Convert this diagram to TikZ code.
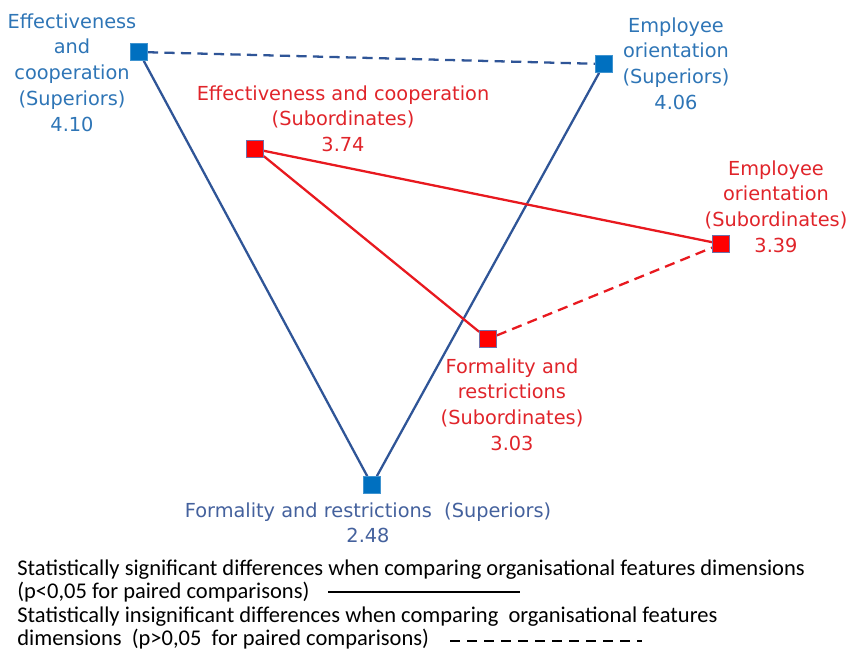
\documentclass[tikz,border=0pt]{standalone}
\usepackage{fontspec}
\setmainfont{DejaVu Sans}
\newfontfamily\legendfont{Carlito}
\usetikzlibrary{backgrounds}

\definecolor{suplabel}{HTML}{2E75B6}
\definecolor{suplabeldark}{HTML}{44619D}
\definecolor{supline}{HTML}{2F5597}
\definecolor{supfill}{HTML}{0070C0}
\definecolor{sublabel}{HTML}{E0242A}
\definecolor{subline}{HTML}{E8191F}
\definecolor{subfill}{HTML}{FF0000}
\definecolor{subedge}{HTML}{7070A8}

\tikzset{
  supsq/.style={draw=supfill!75!white, fill=supfill, minimum size=0.34cm, inner sep=0pt},
  subsq/.style={draw=subedge, fill=subfill, minimum size=0.34cm, inner sep=0pt},
  lbl/.style={align=center, anchor=north, inner sep=0pt, font=\fontsize{11}{14.7}\selectfont},
  legend/.style={anchor=base west, inner sep=0pt, font=\legendfont\fontsize{12.8}{13.3}\selectfont},
  sigline/.style={line width=1.3pt},
  insigline/.style={line width=1.3pt, dash pattern=on 5.8pt off 3.6pt},
}

\begin{document}
\begin{tikzpicture}[x=0.02cm, y=-0.02cm]
  \useasboundingbox (0,0) rectangle (850,653);
  % mean values
  \draw
    (139,52) node[supsq] (ecsup){}
    (604,64) node[supsq] (eosup){}
    (372,485) node[supsq] (frsup){}
    (255,149) node[subsq] (ecsub){}
    (721,244) node[subsq] (eosub){}
    (488,339) node[subsq] (frsub){};
  \begin{scope}[on background layer]
    \draw[supline, insigline] (ecsup) to (eosup);
    \draw[supline, sigline] (ecsup) to (frsup);
    \draw[supline, sigline] (frsup) to (eosup);
    \draw[subline, sigline] (ecsub) to (eosub);
    \draw[subline, sigline] (ecsub) to (frsub);
    \draw[subline, insigline] (frsub) to (eosub);
  \end{scope}
  % labels
  \node[lbl, text=suplabel] (ecsuplbl) at (72,13) {Effectiveness\\and\\cooperation\\(Superiors)\\4.10};
  \node[lbl, text=suplabel] (eosuplbl) at (676,17) {Employee\\orientation\\(Superiors)\\4.06};
  \node[lbl, text=suplabeldark] (frsuplbl) at (368,502) {Formality and restrictions~ (Superiors)\\2.48};
  \node[lbl, text=sublabel] (ecsublbl) at (343,85) {Effectiveness and cooperation\\(Subordinates)\\3.74};
  \node[lbl, text=sublabel] (eosublbl) at (776,160) {Employee\\orientation\\(Subordinates)\\3.39};
  \node[lbl, text=sublabel] (frsublbl) at (512,358) {Formality and\\restrictions\\(Subordinates)\\3.03};
  % legend
  \node[legend] (sig1) at (17,575) {Statistically significant differences when comparing organisational features dimensions};
  \node[legend] (sig2) at (17,598) {(p<0,05 for paired comparisons)};
  \node[legend] (insig1) at (17,622) {Statistically insignificant differences when comparing~ organisational features};
  \node[legend] (insig2) at (17,645) {dimensions~ (p>0,05~ for paired comparisons)};
  \coordinate (solidA) at (328,592);
  \coordinate (solidB) at (520,592);
  \coordinate (dashA) at (450,641);
  \coordinate (dashB) at (642,641);
  \draw[line width=1.5pt] (solidA) -- (solidB);
  \draw[line width=1.6pt, dash pattern=on 5.7pt off 4pt] (dashA) -- (dashB);
\end{tikzpicture}
\end{document}
